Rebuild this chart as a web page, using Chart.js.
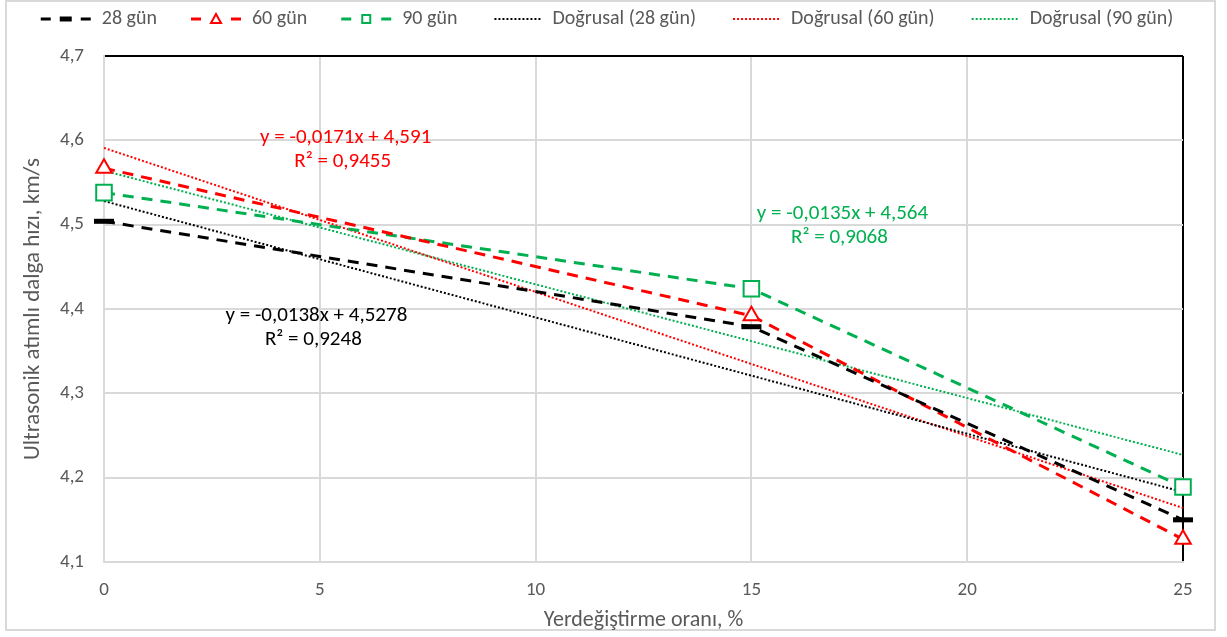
<!DOCTYPE html>
<html>
<head>
<meta charset="utf-8">
<script src="https://cdn.jsdelivr.net/npm/chart.js@4.4.1/dist/chart.umd.min.js"></script>
<style>
  html, body { margin: 0; padding: 0; background: #fff; }
  #wrap { width: 1227px; height: 637px; position: relative; }
</style>
</head>
<body>
<div id="wrap"><canvas id="c" width="1227" height="637"></canvas></div>
<script>
// ---- data ----
const xValues = [0, 15, 25];
const v28 = [4.504, 4.379, 4.150];
const v60 = [4.567, 4.392, 4.127];
const v90 = [4.538, 4.424, 4.189];
const trendX = [0, 25];
const t28 = [4.528, 4.183];
const t60 = [4.591, 4.164];
const t90 = [4.564, 4.227];
const seriesNames = ['28 gün', '60 gün', '90 gün', 'Doğrusal (28 gün)', 'Doğrusal (60 gün)', 'Doğrusal (90 gün)'];
const xTickLabels = ['0', '5', '10', '15', '20', '25'];
const yTickLabels = ['4,1', '4,2', '4,3', '4,4', '4,5', '4,6', '4,7'];
const xTitle = 'Yerdeğiştirme oranı, %';
const yTitle = 'Ultrasonik atımlı dalga hızı, km/s';
const eqText = [
  ['y = -0,0138x + 4,5278', 'R² = 0,9248'],
  ['y = -0,0171x + 4,591', 'R² = 0,9455'],
  ['y = -0,0135x + 4,564', 'R² = 0,9068']
];
// label anchor positions (data space)
const eqPos = [
  { x: 4.92, y: 4.392 },
  { x: 5.6, y: 4.603 },
  { x: 17.11, y: 4.5126 }
];

const FONT = 'Carlito, Calibri, Lato, sans-serif';
const GRAY = '#595959';
const GRID = '#d9d9d9';
const RED = '#ff0000', GREEN = '#00b050', BLACK = '#000000';
const colors = [BLACK, RED, GREEN, BLACK, RED, GREEN];

const pts = (xs, ys) => xs.map((x, i) => ({ x: x, y: ys[i] }));

// legend icons (with a transparent left margin for item spacing)
const ICON_PAD = 24;
function makeIcon(kind, color) {
  const cv = document.createElement('canvas');
  cv.width = 52 + ICON_PAD; cv.height = 14;
  const g = cv.getContext('2d');
  g.translate(ICON_PAD, 0);
  g.strokeStyle = color; g.fillStyle = '#fff';
  if (kind === 'trend') {
    g.lineWidth = 2; g.setLineDash([2, 2]);
    g.beginPath(); g.moveTo(4, 7); g.lineTo(50, 7); g.stroke();
    return cv;
  }
  g.lineWidth = 3;
  g.beginPath(); g.moveTo(1, 7); g.lineTo(11, 7); g.moveTo(41, 7); g.lineTo(51, 7); g.stroke();
  if (kind === 'dash') {
    g.lineWidth = 5; g.beginPath(); g.moveTo(20, 7); g.lineTo(32, 7); g.stroke();
  } else if (kind === 'tri') {
    g.lineWidth = 2; g.beginPath(); g.moveTo(26, 2); g.lineTo(31, 11); g.lineTo(21, 11); g.closePath(); g.fill(); g.stroke();
  } else if (kind === 'sq') {
    g.lineWidth = 2; g.fillRect(22, 3, 8, 8); g.strokeRect(22, 3, 8, 8);
  }
  return cv;
}
const icons = [
  makeIcon('dash', BLACK), makeIcon('tri', RED), makeIcon('sq', GREEN),
  makeIcon('trend', BLACK), makeIcon('trend', RED), makeIcon('trend', GREEN)
];

const dataLine = (i, ys, ptStyle, radius, pbw) => ({
  label: seriesNames[i],
  data: pts(xValues, ys),
  borderColor: colors[i],
  backgroundColor: '#ffffff',
  borderWidth: 3,
  borderDash: [11, 8],
  pointStyle: ptStyle,
  pointRadius: radius,
  pointHoverRadius: radius,
  pointBorderWidth: pbw,
  pointBorderColor: colors[i],
  pointBackgroundColor: '#ffffff',
  tension: 0,
  clip: false
});
const trendLine = (i, ys) => ({
  label: seriesNames[i],
  data: pts(trendX, ys),
  borderColor: colors[i],
  backgroundColor: colors[i],
  borderWidth: 2,
  borderDash: [2, 2],
  pointRadius: 0,
  tension: 0,
  clip: false
});

const frame = {
  id: 'frame',
  beforeDraw(chart) {
    const ctx = chart.ctx;
    ctx.save();
    ctx.fillStyle = '#fff';
    ctx.fillRect(0, 0, chart.width, chart.height);
    ctx.strokeStyle = GRID; ctx.lineWidth = 2;
    ctx.strokeRect(6, 1, 1209, 629);
    ctx.restore();
  }
};
const equations = {
  id: 'equations',
  afterDatasetsDraw(chart) {
    const ctx = chart.ctx, xs = chart.scales.x, ys = chart.scales.y;
    ctx.save();
    ctx.font = '21px ' + FONT;
    ctx.textAlign = 'center'; ctx.textBaseline = 'middle';
    eqText.forEach((lines, i) => {
      ctx.fillStyle = colors[i];
      const px = xs.getPixelForValue(eqPos[i].x), py = ys.getPixelForValue(eqPos[i].y);
      ctx.fillText(lines[0], px, py);
      ctx.fillText(lines[1], px - 3, py + 24);
    });
    ctx.restore();
  }
};

new Chart(document.getElementById('c'), {
  type: 'line',
  data: {
    datasets: [
      dataLine(0, v28, 'line', 10, 5),
      dataLine(1, v60, 'triangle', 9, 2),
      dataLine(2, v90, 'rect', 11, 2),
      trendLine(3, t28),
      trendLine(4, t60),
      trendLine(5, t90)
    ]
  },
  options: {
    responsive: false,
    animation: false,
    layout: { padding: { left: 6, right: 44, top: 0, bottom: 2 } },
    plugins: {
      tooltip: { enabled: false },
      legend: {
        position: 'top',
        labels: {
          color: GRAY,
          font: { family: FONT, size: 20 },
          usePointStyle: true,
          pointStyleWidth: 52 + ICON_PAD,
          padding: 9,
          generateLabels(chart) {
            const items = Chart.defaults.plugins.legend.labels.generateLabels(chart);
            items.forEach((it, i) => { it.pointStyle = icons[i]; it.fontColor = GRAY; });
            return items;
          }
        }
      }
    },
    scales: {
      gap: {
        type: 'linear', position: 'top', display: true,
        grid: { display: false }, border: { display: false },
        ticks: { display: false },
        afterFit(s) { s.height = 17; }
      },
      x: {
        type: 'linear', min: 0, max: 25,
        afterFit(s) { s.height = 73; },
        ticks: {
          stepSize: 5, color: GRAY, padding: 17,
          font: { family: FONT, size: 19 },
          callback: (v) => xTickLabels[Math.round(v / 5)]
        },
        grid: {
          drawTicks: false, lineWidth: 2,
          color: (c) => (c.tick && c.tick.value === 25 ? BLACK : GRID)
        },
        border: { display: true, color: GRID, width: 2 },
        title: {
          display: true, text: xTitle, color: GRAY,
          font: { family: FONT, size: 22 }, padding: { top: 0, bottom: 1 }
        }
      },
      y: {
        type: 'linear', min: 4.1, max: 4.7,
        afterFit(s) { s.width = 98; },
        ticks: {
          stepSize: 0.1, color: GRAY, padding: 20,
          font: { family: FONT, size: 19 },
          callback: (v) => yTickLabels[Math.round((v - 4.1) * 10)]
        },
        grid: {
          drawTicks: false, lineWidth: 2,
          color: (c) => (c.tick && Math.abs(c.tick.value - 4.7) < 1e-6 ? BLACK : GRID)
        },
        border: { display: true, color: GRID, width: 2 },
        title: {
          display: true, text: yTitle, color: GRAY,
          font: { family: FONT, size: 23 }, padding: { top: 13, bottom: 0 }
        }
      }
    }
  },
  plugins: [frame, equations]
});
</script>
</body>
</html>
